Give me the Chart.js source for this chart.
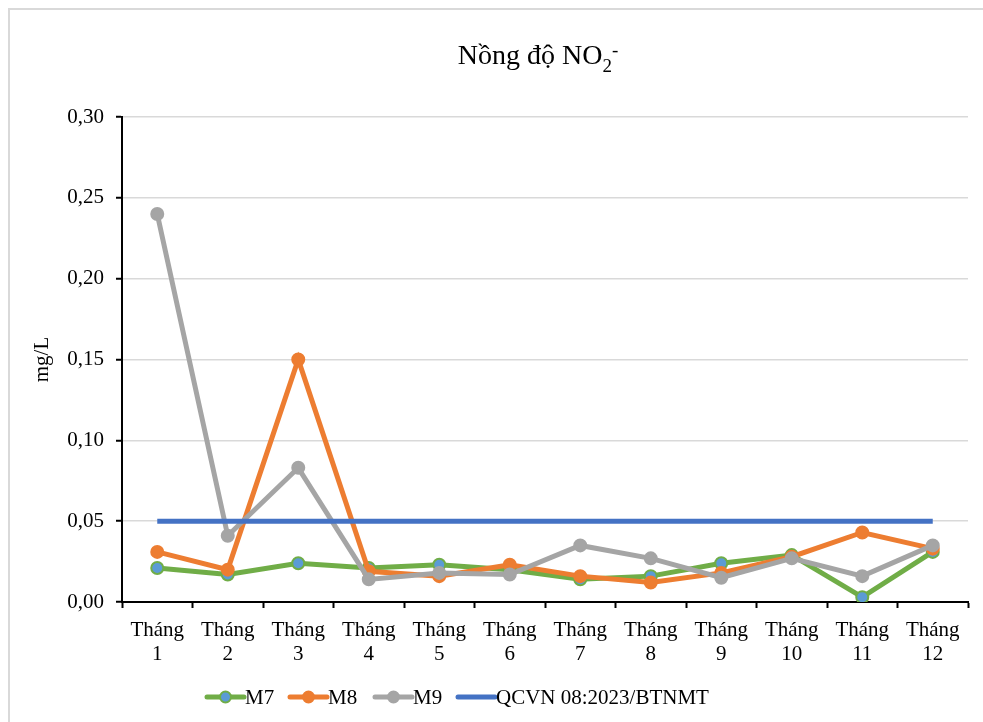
<!DOCTYPE html>
<html>
<head>
<meta charset="utf-8">
<script src="https://cdn.jsdelivr.net/npm/chart.js@4/dist/chart.umd.min.js"></script>
<style>
html,body{margin:0;padding:0;background:#fff;}
#wrap{position:relative;width:983px;height:722px;}
</style>
</head>
<body>
<div id="wrap"><canvas id="c" width="983" height="722"></canvas></div>
<script>
const months = ["1","2","3","4","5","6","7","8","9","10","11","12"];
const categories = months.map(m => ["Tháng", m]);
const seriesNames = ["M7", "M8", "M9", "QCVN 08:2023/BTNMT"];
const m7 = [0.021, 0.017, 0.024, 0.021, 0.023, 0.020, 0.014, 0.016, 0.024, 0.029, 0.003, 0.031];
const m8 = [0.031, 0.020, 0.150, 0.019, 0.016, 0.023, 0.016, 0.012, 0.018, 0.028, 0.043, 0.033];
const m9 = [0.240, 0.041, 0.083, 0.014, 0.018, 0.017, 0.035, 0.027, 0.015, 0.027, 0.016, 0.035];
const qcvn = [0.05, 0.05, 0.05, 0.05, 0.05, 0.05, 0.05, 0.05, 0.05, 0.05, 0.05, 0.05];
const yTicks = ["0,00","0,05","0,10","0,15","0,20","0,25","0,30"];
const titleMain = "Nồng độ NO";
const titleSub = "2";
const titleSup = "-";
const yTitle = "mg/L";

const FONT = "'Liberation Serif', 'Times New Roman', serif";

const bgBorder = {
  id: 'bgBorder',
  beforeDraw(chart) {
    const ctx = chart.ctx;
    ctx.save();
    ctx.fillStyle = '#fff';
    ctx.fillRect(0, 0, chart.width, chart.height);
    ctx.strokeStyle = '#d9d9d9';
    ctx.lineWidth = 2;
    ctx.strokeRect(9, 9, 2000, 2000);
    ctx.restore();
  }
};

const customTitle = {
  id: 'customTitle',
  afterDraw(chart) {
    const ctx = chart.ctx;
    ctx.save();
    ctx.fillStyle = '#000';
    ctx.textBaseline = 'alphabetic';
    const big = "28px " + FONT, small = "19px " + FONT;
    ctx.font = big; const w1 = ctx.measureText(titleMain).width;
    ctx.font = small; const w2 = ctx.measureText(titleSub).width; const w3 = ctx.measureText(titleSup).width;
    const total = w1 + w2 + w3;
    const cx = 538, base = 64;
    let x = cx - total / 2;
    ctx.textAlign = 'left';
    ctx.font = big; ctx.fillText(titleMain, x, base); x += w1;
    ctx.font = small; ctx.fillText(titleSub, x, base + 8); x += w2;
    ctx.fillText(titleSup, x, base - 8);
    ctx.restore();
  }
};

const customLegend = {
  id: 'customLegend',
  afterDraw(chart) {
    const ctx = chart.ctx;
    const xs = [207, 290, 375, 458];
    const y = 697;
    ctx.save();
    chart.data.datasets.forEach((ds, i) => {
      const x0 = xs[i], x1 = x0 + 37;
      ctx.strokeStyle = ds.borderColor;
      ctx.lineWidth = 5;
      ctx.lineCap = 'round';
      ctx.beginPath(); ctx.moveTo(x0, y); ctx.lineTo(x1, y); ctx.stroke();
      if (ds.pointRadius > 0) {
        ctx.beginPath();
        ctx.arc((x0 + x1) / 2, y, 5.5, 0, Math.PI * 2);
        ctx.fillStyle = ds.pointBackgroundColor;
        ctx.fill();
        ctx.lineWidth = 2;
        ctx.strokeStyle = ds.pointBorderColor;
        ctx.stroke();
      }
      ctx.fillStyle = '#000';
      ctx.font = "21px " + FONT;
      ctx.textAlign = 'left';
      ctx.textBaseline = 'middle';
      ctx.fillText(ds.label, x1 + 1, y + 1);
    });
    ctx.restore();
  }
};

function mk(label, data, color, fill, order, radius) {
  return {
    label, data,
    borderColor: color,
    backgroundColor: color,
    borderWidth: 5,
    pointRadius: radius,
    pointHoverRadius: radius,
    pointBackgroundColor: fill,
    pointBorderColor: color,
    pointBorderWidth: 2,
    tension: 0,
    order
  };
}

new Chart(document.getElementById('c'), {
  type: 'line',
  data: {
    labels: categories,
    datasets: [
      mk(seriesNames[0], m7, '#70AD47', '#5B9BD5', 4, 6),
      mk(seriesNames[1], m8, '#ED7D31', '#ED7D31', 3, 6),
      mk(seriesNames[2], m9, '#A5A5A5', '#A5A5A5', 2, 6),
      mk(seriesNames[3], qcvn, '#4472C4', '#4472C4', 1, 0)
    ]
  },
  options: {
    responsive: false,
    animation: false,
    devicePixelRatio: 1,
    layout: { padding: { left: 30, right: 15, top: 117, bottom: 60 } },
    plugins: {
      legend: { display: false },
      title: { display: false },
      tooltip: { enabled: false }
    },
    scales: {
      x: {
        offset: true,
        grid: { display: true, drawOnChartArea: false, offset: true, tickLength: 6, tickColor: '#000', tickWidth: 2 },
        border: { color: '#000', width: 2 },
        ticks: { color: '#000', font: { family: FONT, size: 21, lineHeight: 1.15 }, maxRotation: 0, autoSkip: false, padding: 10 },
        afterFit(s) { s.height = 60; }
      },
      y: {
        min: 0, max: 0.3,
        afterBuildTicks(s) { s.ticks = yTicks.map(t => ({ value: parseFloat(t.replace(',', '.')) })); },
        grid: { color: '#d9d9d9', lineWidth: 1.5, tickLength: 6, tickColor: '#000', tickWidth: 2 },
        border: { color: '#000', width: 2 },
        ticks: {
          color: '#000', font: { family: FONT, size: 21 }, padding: 12,
          callback: (v, i) => yTicks[i]
        },
        title: { display: true, text: yTitle, color: '#000', font: { family: FONT, size: 21 }, padding: { top: 0, bottom: 0 } },
        afterFit(s) { s.width = 92; }
      }
    }
  },
  plugins: [bgBorder, customTitle, customLegend]
});
</script>
</body>
</html>
